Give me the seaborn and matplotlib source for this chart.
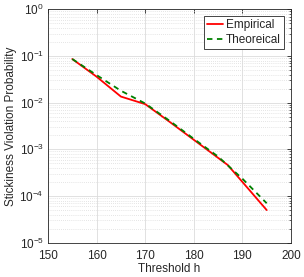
import numpy as np
import pandas as pd
import matplotlib
matplotlib.use("Agg")
import matplotlib.pyplot as plt
import seaborn as sns
from matplotlib.ticker import LogLocator, FixedLocator, NullFormatter

# Data
emp_x = [155, 160, 165, 170, 175, 180, 187, 195]
emp_y = [0.086, 0.036, 0.0135, 0.0093, 0.0039, 0.0016, 4.6e-4, 5.0e-5]
theo_x = [155, 160, 165, 170, 175, 180, 185, 190, 195]
theo_y = [0.086, 0.039, 0.018, 0.0096, 0.0041, 0.00168, 7.0e-4, 2.35e-4, 7.0e-5]
series_names = ["Empirical", "Theoreical"]
x_ticks = [150, 160, 170, 180, 190, 200]
y_ticks = [1e-5, 1e-4, 1e-3, 1e-2, 1e-1, 1e0]

df = pd.concat([
    pd.DataFrame({"h": emp_x, "p": emp_y, "series": series_names[0]}),
    pd.DataFrame({"h": theo_x, "p": theo_y, "series": series_names[1]}),
], ignore_index=True)

sns.set_style("white")
plt.rcParams["font.family"] = ["Liberation Sans", "DejaVu Sans"]
plt.rcParams["mathtext.fontset"] = "custom"
plt.rcParams["mathtext.rm"] = "Liberation Sans"
plt.rcParams["mathtext.it"] = "Liberation Sans"

fig = plt.figure(figsize=(3.04, 2.77), dpi=100)
ax = fig.add_axes([48/304, 1 - 242.7/277, 243/304, (242.7 - 9.3)/277])

sns.lineplot(data=df, x="h", y="p", hue="series", style="series",
             palette={"Empirical": "#ff0000", "Theoreical": "#008000"},
             dashes={"Empirical": "", "Theoreical": (3, 2.5)},
             linewidth=1.3, ax=ax, sort=False, estimator=None)

ax.set_yscale("log")
ax.set_xlim(150, 200)
ax.set_ylim(1e-5, 1e0)
ax.xaxis.set_major_locator(FixedLocator(x_ticks))
ax.yaxis.set_major_locator(FixedLocator(y_ticks))
ax.yaxis.set_minor_locator(LogLocator(base=10, subs=np.arange(2, 10), numticks=20))
ax.yaxis.set_minor_formatter(NullFormatter())
ax.set_yticklabels([r"$10^{%d}$" % int(np.log10(v)) for v in y_ticks])

ax.grid(True, which="major", color="#dcdcdc", linewidth=0.6, linestyle="-")
ax.grid(True, which="minor", axis="y", color="#dcdcdc", linewidth=0.6, linestyle=(0, (1, 1.5)))
ax.set_axisbelow(True)

for s in ax.spines.values():
    s.set_color("#262626")
    s.set_linewidth(0.6)
ax.tick_params(axis="both", which="both", direction="in", top=True, right=True,
               color="#262626", labelsize=8.5, labelcolor="#262626")
ax.tick_params(axis="both", which="major", length=3, width=0.6)
ax.tick_params(axis="y", which="minor", length=1.8, width=0.5)
ax.tick_params(axis="x", which="major", pad=5)
ax.tick_params(axis="y", which="major", pad=3)

ax.set_xlabel("Threshold h", fontsize=8.5, color="#262626", labelpad=1)
ax.set_ylabel("Stickiness Violation Probability", fontsize=8.5, color="#262626", labelpad=2)

leg = ax.legend(loc="upper right", fontsize=8.5, frameon=True, fancybox=False,
                edgecolor="#262626", framealpha=1, borderpad=0.25, labelspacing=0.2,
                handlelength=1.4, handletextpad=0.25, borderaxespad=0.6)
leg.get_frame().set_linewidth(0.6)
leg.set_title(None)

fig.savefig("out.png", dpi=100)
